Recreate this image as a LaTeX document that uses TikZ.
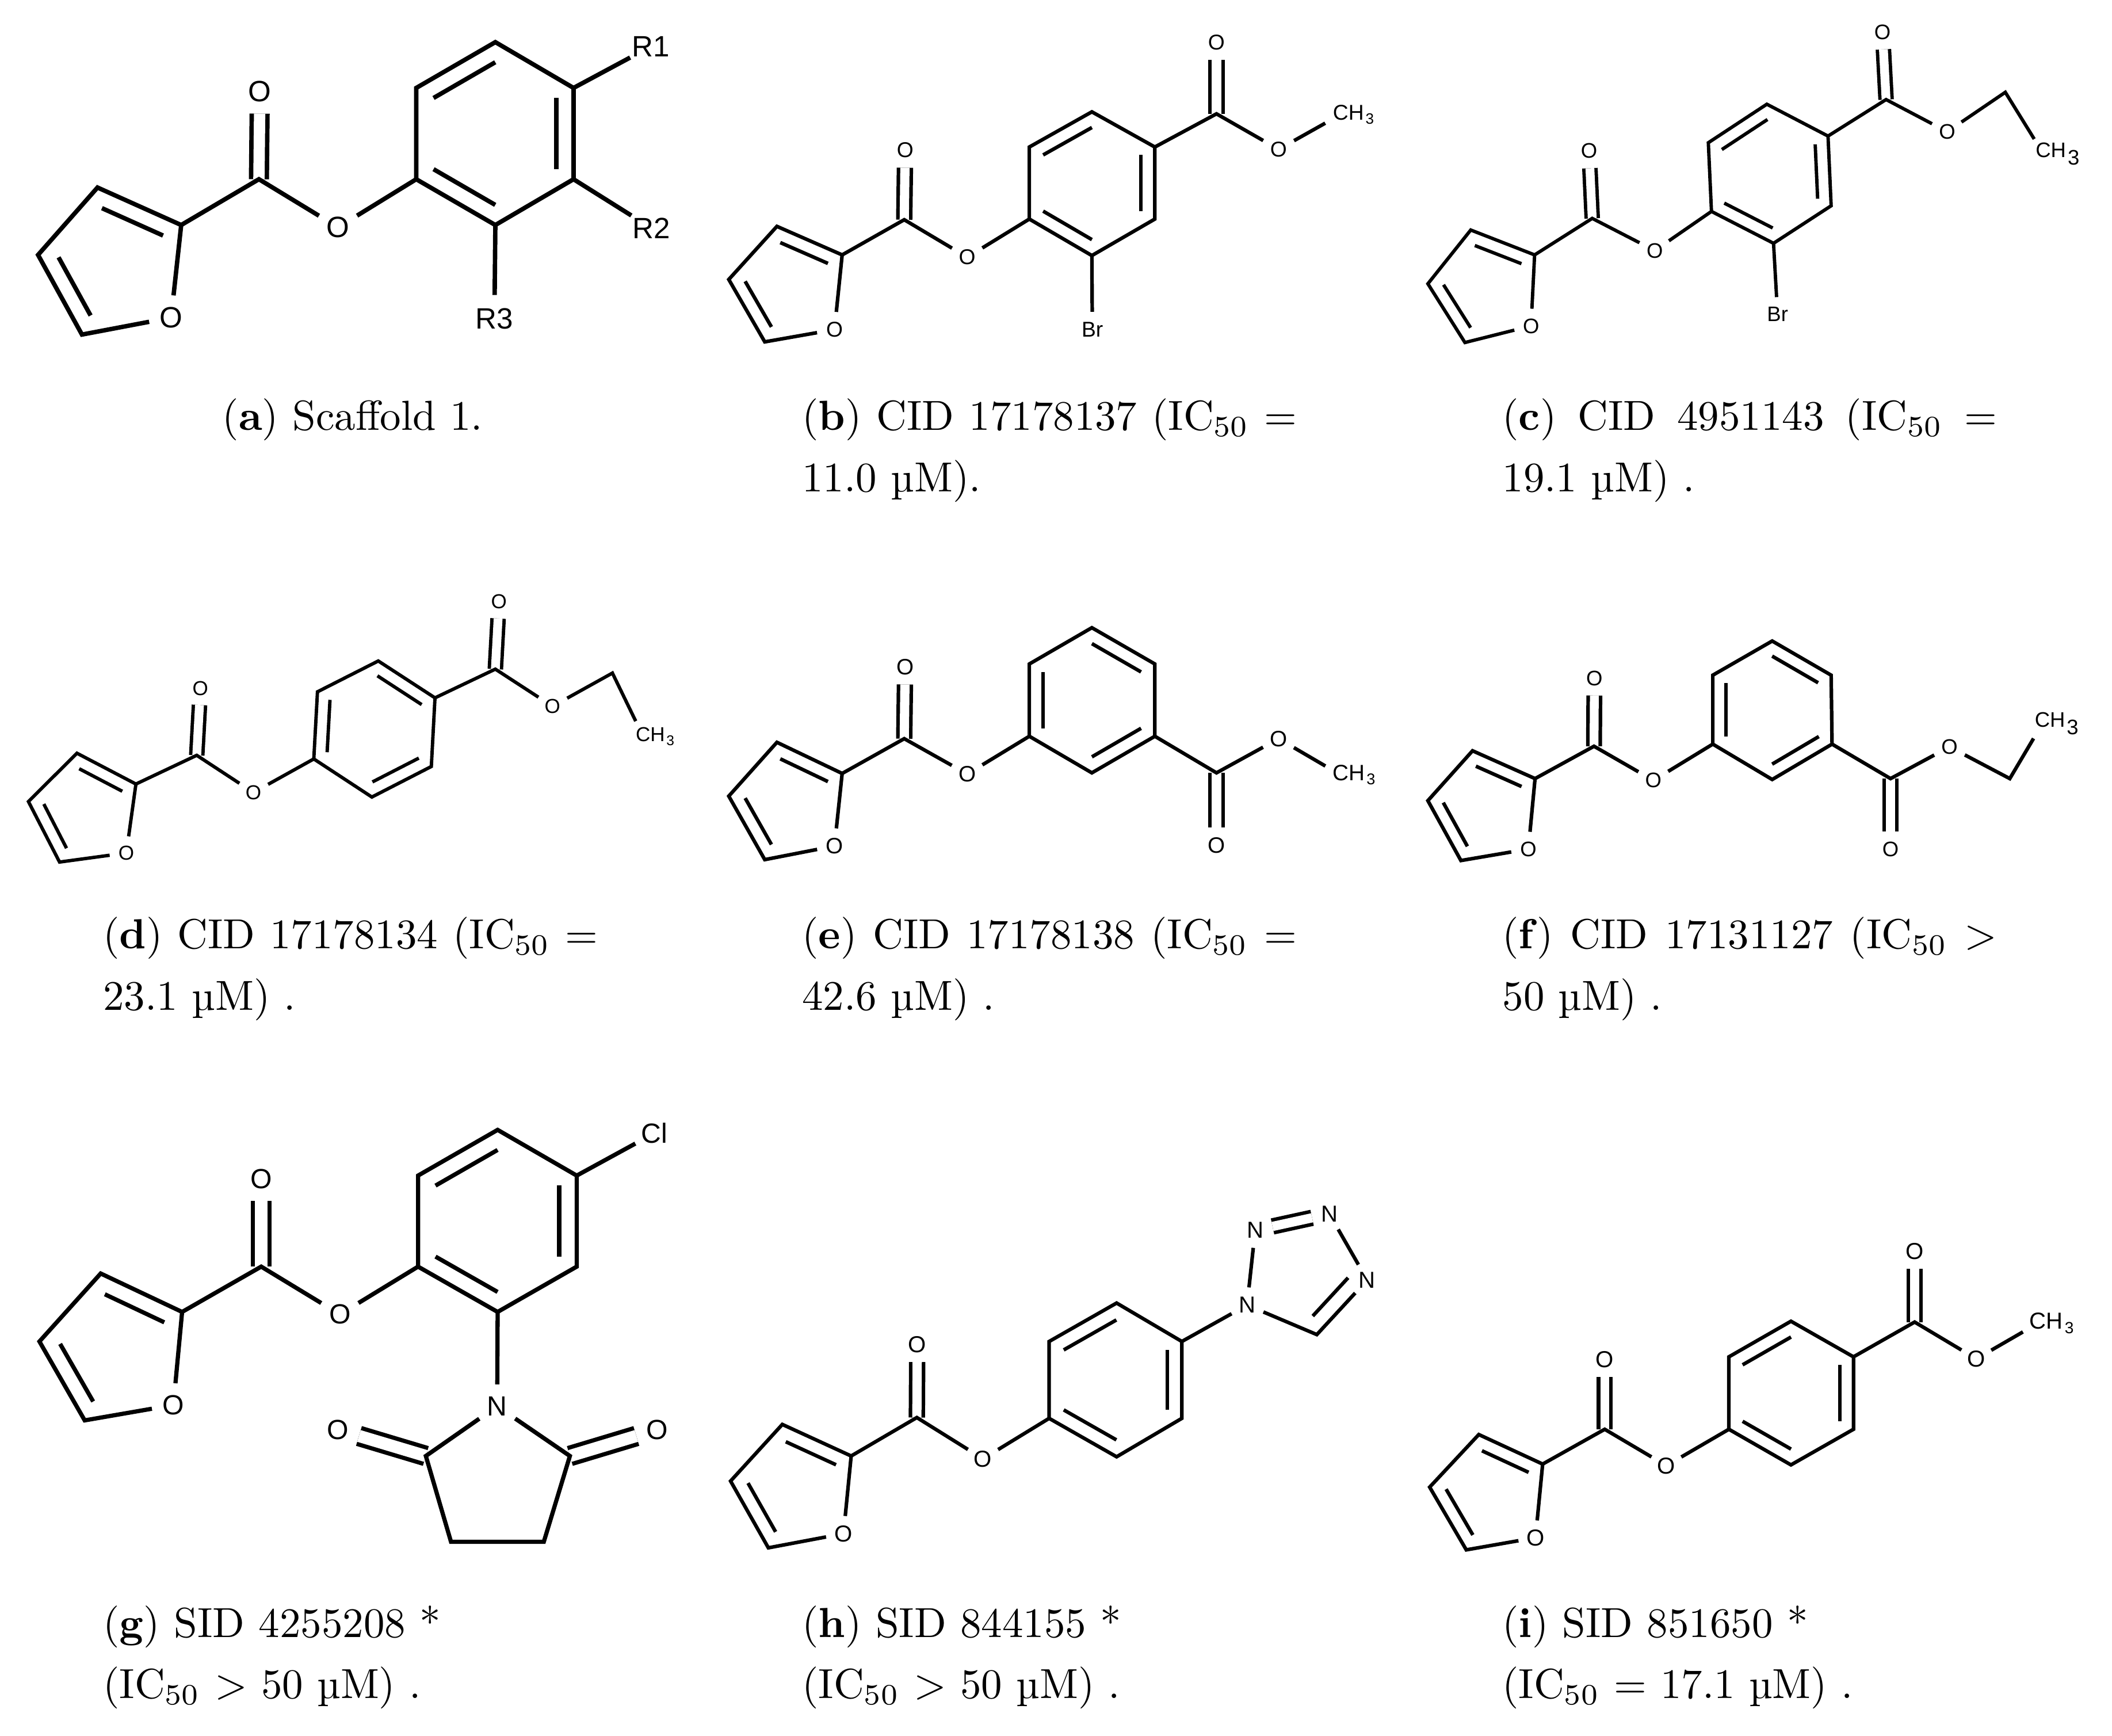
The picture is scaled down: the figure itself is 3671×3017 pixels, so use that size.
\documentclass[tikz,border=0pt]{standalone}
\usepackage{fontspec}
\usetikzlibrary{calc}
\newfontfamily\atomfont{Liberation Sans}
\newcommand{\methyl}{C\rlap{H\kern.08em\textsubscript{3}}}
\tikzset{
  panel/.style n args={4}{shift={(#1,#2)},x=#3*0.137pt,y=-#4*0.137pt},
  mol/.style n args={4}{
    line width=#1,
    atom/.style={circle,inner sep=0pt,minimum size=#3,font=\atomfont\fontsize{#2}{#2}\selectfont},
    dbond/.style={double,double distance=#4}
  },
  capt/.style={anchor=base west,inner sep=0pt,text width=117.8pt,align=justify,font=\fontsize{10}{14.6}\selectfont}
}
% furan ring, carbonyl and ester oxygen, named the same in every molecule
\newcommand{\furoate}{
  \coordinate (fc) at ($.2*(o1)+.2*(c2)+.2*(c3)+.2*(c4)+.2*(c5)$);
  \draw[dbond] (cc) -- (oa);
  \draw (o1) -- (c2) -- (c3) -- (c4) -- (c5) -- (o1);
  \draw ($(c2)!.27!(fc)$) -- ($(c3)!.27!(fc)$);
  \draw ($(c4)!.27!(fc)$) -- ($(c5)!.27!(fc)$);
  \draw (c2) -- (cc) -- (oe) -- (r1);
}
\newcommand{\benzene}[1]{
  \coordinate (rc) at ($(r1)!.5!(r4)$);
  \draw (r1) -- (r2) -- (r3) -- (r4) -- (r5) -- (r6) -- cycle;
  \foreach \ua/\ub in {#1}
    \draw ($(\ua)!.22!(rc)$) -- ($(\ub)!.22!(rc)$);
}
\begin{document}
\begin{tikzpicture}[x=0.137pt,y=-0.137pt]
  \useasboundingbox (0,0) rectangle (3671,3017);

  % (a)
  \begin{scope}[panel={-3}{0}{.7949}{.5769},mol={1.05pt}{7pt}{9.6pt}{2.7pt},name prefix=a-]
    \node[atom] (o1) at (378,957) {O};
    \node[atom] (oa) at (572,275) {O};
    \node[atom] (oe) at (743,685) {O};
    \path (400,678) coordinate (c2) (217,565) coordinate (c3) (87,768) coordinate (c4) (183,1008) coordinate (c5) (570,540) coordinate (cc);
    \path (914,540) coordinate (r1) (914,265) coordinate (r2) (1087,127) coordinate (r3) (1258,265) coordinate (r4) (1258,540) coordinate (r5) (1087,678) coordinate (r6);
    \node[atom] (s1) at (1427,140) {R1};
    \node[atom] (s2) at (1428,687) {R2};
    \node[atom] (s3) at (1085,960) {R3};
    \furoate
    \benzene{r2/r3,r4/r5,r6/r1}
    \draw (r4) -- (s1);
    \draw (r5) -- (s2);
    \draw (r6) -- (s3);
  \end{scope}

  % (b)
  \begin{scope}[panel={1237}{0}{.7821}{.5769},mol={.85pt}{5.1pt}{7.6pt}{2.2pt},name prefix=b-]
    \node[atom] (o1) at (273,993) {O};
    \node[atom] (oa) at (430,452) {O};
    \node[atom] (oe) at (568,775) {O};
    \path (290,768) coordinate (c2) (145,682) coordinate (c3) (38,842) coordinate (c4) (118,1030) coordinate (c5) (428,662) coordinate (cc);
    \path (706,660) coordinate (r1) (706,443) coordinate (r2) (845,337) coordinate (r3) (985,443) coordinate (r4) (985,660) coordinate (r5) (845,770) coordinate (r6);
    \node[atom] (br) at (846,993) {Br};
    \node[atom] (od) at (1122,127) {O};
    \node[atom] (ox) at (1260,450) {O};
    \node[atom] (me) at (1398,345) {\methyl};
    \coordinate (ce) at (1122,343);
    \furoate
    \benzene{r2/r3,r4/r5,r6/r1}
    \draw (r6) -- (br);
    \draw[dbond] (ce) -- (od);
    \draw (r4) -- (ce) -- (ox) -- (me);
  \end{scope}

  % (c)
  \begin{scope}[panel={2457}{0}{.7763}{.5769},mol={.8pt}{5pt}{7.4pt}{2.1pt},name prefix=c-]
    \node[atom] (o1) at (263,982) {O};
    \node[atom] (oa) at (393,455) {O};
    \node[atom] (oe) at (540,755) {O};
    \path (271,768) coordinate (c2) (128,693) coordinate (c3) (32,855) coordinate (c4) (115,1032) coordinate (c5) (400,658) coordinate (cc);
    \path (667,637) coordinate (r1) (660,430) coordinate (r2) (791,314) coordinate (r3) (928,410) coordinate (r4) (935,620) coordinate (r5) (806,733) coordinate (r6);
    \node[atom] (br) at (815,947) {Br};
    \node[atom] (od) at (1050,97) {O};
    \node[atom] (ox) at (1195,397) {O};
    \node[atom] (me) at (1410,463) {\methyl};
    \path (1058,300) coordinate (ce) (1325,278) coordinate (ch);
    \furoate
    \benzene{r2/r3,r4/r5,r6/r1}
    \draw (r6) -- (br);
    \draw[dbond] (ce) -- (od);
    \draw (r4) -- (ce) -- (ox) -- (ch) -- (me);
  \end{scope}

  % (d)
  \begin{scope}[panel={-3}{1000}{.7949}{.5256},mol={.8pt}{4.8pt}{7.2pt}{2.1pt},name prefix=d-]
    \node[atom] (o1) at (280,918) {O};
    \node[atom] (oa) at (442,373) {O};
    \node[atom] (oe) at (558,718) {O};
    \path (301,690) coordinate (c2) (172,588) coordinate (c3) (66,748) coordinate (c4) (134,948) coordinate (c5) (434,595) coordinate (cc);
    \path (690,607) coordinate (r1) (698,385) coordinate (r2) (831,283) coordinate (r3) (955,405) coordinate (r4) (947,632) coordinate (r5) (817,733) coordinate (r6);
    \node[atom] (od) at (1095,87) {O};
    \node[atom] (ox) at (1212,433) {O};
    \node[atom] (me) at (1410,532) {\methyl};
    \path (1087,310) coordinate (ce) (1343,323) coordinate (ch);
    \furoate
    \benzene{r1/r2,r3/r4,r5/r6}
    \draw[dbond] (ce) -- (od);
    \draw (r4) -- (ce) -- (ox) -- (ch) -- (me);
  \end{scope}

  % (e)
  \begin{scope}[panel={1237}{1000}{.7821}{.5256},mol={.85pt}{5.3pt}{7.6pt}{2.2pt},name prefix=e-]
    \node[atom] (o1) at (273,895) {O};
    \node[atom] (oa) at (430,302) {O};
    \node[atom] (oe) at (568,657) {O};
    \path (290,655) coordinate (c2) (145,552) coordinate (c3) (38,730) coordinate (c4) (118,940) coordinate (c5) (428,540) coordinate (cc);
    \path (706,532) coordinate (r1) (706,293) coordinate (r2) (845,173) coordinate (r3) (985,293) coordinate (r4) (985,532) coordinate (r5) (845,653) coordinate (r6);
    \node[atom] (od) at (1122,893) {O};
    \node[atom] (ox) at (1260,540) {O};
    \node[atom] (me) at (1398,660) {\methyl};
    \coordinate (ce) at (1122,653);
    \furoate
    \benzene{r1/r2,r3/r4,r5/r6}
    \draw[dbond] (ce) -- (od);
    \draw (r5) -- (ce) -- (ox) -- (me);
  \end{scope}

  % (f)
  \begin{scope}[panel={2457}{1000}{.7763}{.5256},mol={.85pt}{5pt}{7.4pt}{2.1pt},name prefix=f-]
    \node[atom] (o1) at (257,905) {O};
    \node[atom] (oa) at (405,340) {O};
    \node[atom] (oe) at (537,678) {O};
    \path (272,672) coordinate (c2) (132,580) coordinate (c3) (32,745) coordinate (c4) (106,943) coordinate (c5) (404,565) coordinate (cc);
    \path (670,558) coordinate (r1) (670,330) coordinate (r2) (803,217) coordinate (r3) (935,330) coordinate (r4) (937,558) coordinate (r5) (803,675) coordinate (r6);
    \node[atom] (od) at (1068,905) {O};
    \node[atom] (ox) at (1200,567) {O};
    \node[atom] (me) at (1408,490) {\methyl};
    \path (1068,672) coordinate (ce) (1335,672) coordinate (ch);
    \furoate
    \benzene{r1/r2,r3/r4,r5/r6}
    \draw[dbond] (ce) -- (od);
    \draw (r5) -- (ce) -- (ox) -- (ch) -- (me);
  \end{scope}

  % (g)
  \begin{scope}[panel={-3}{1920}{.7949}{.7032},mol={1pt}{6.6pt}{9.4pt}{2.9pt},name prefix=g-]
    \node[atom] (o1) at (383,742) {O};
    \node[atom] (oa) at (575,183) {O};
    \node[atom] (oe) at (747,518) {O};
    \path (402,512) coordinate (c2) (224,417) coordinate (c3) (90,585) coordinate (c4) (189,780) coordinate (c5) (575,400) coordinate (cc);
    \path (918,400) coordinate (r1) (918,175) coordinate (r2) (1092,62) coordinate (r3) (1265,175) coordinate (r4) (1265,400) coordinate (r5) (1092,512) coordinate (r6);
    \node[atom] (cl) at (1435,70) {Cl};
    \node[atom] (nn) at (1091,745) {N};
    \node[atom] (ol) at (743,803) {O};
    \node[atom] (or) at (1441,803) {O};
    \path (935,868) coordinate (p2) (990,1080) coordinate (p3) (1193,1080) coordinate (p4) (1250,868) coordinate (p5);
    \furoate
    \benzene{r2/r3,r4/r5,r6/r1}
    \draw (r4) -- (cl);
    \draw (r6) -- (nn);
    \draw[dbond] (p2) -- (ol);
    \draw[dbond] (p5) -- (or);
    \draw (nn) -- (p2) -- (p3) -- (p4) -- (p5) -- (nn);
  \end{scope}

  % (h)
  \begin{scope}[panel={1237}{1920}{.7821}{.7032},mol={.85pt}{5.5pt}{7.6pt}{2.2pt},name prefix=h-]
    \node[atom] (o1) at (293,1060) {O};
    \node[atom] (oa) at (457,592) {O};
    \node[atom] (oe) at (603,875) {O};
    \path (310,868) coordinate (c2) (157,790) coordinate (c3) (42,930) coordinate (c4) (126,1095) coordinate (c5) (456,773) coordinate (cc);
    \path (750,775) coordinate (r1) (750,585) coordinate (r2) (900,490) coordinate (r3) (1045,585) coordinate (r4) (1045,775) coordinate (r5) (900,870) coordinate (r6);
    \node[atom] (n1) at (1190,495) {N};
    \node[atom] (n2) at (1208,310) {N};
    \node[atom] (n3) at (1373,270) {N};
    \node[atom] (n4) at (1457,433) {N};
    \coordinate (c6) at (1345,568);
    \coordinate (tc) at (1315,415);
    \furoate
    \benzene{r2/r3,r4/r5,r6/r1}
    \draw (r4) -- (n1);
    \draw (n1) -- (n2);
    \draw[dbond] (n2) -- (n3);
    \draw (n3) -- (n4);
    \draw (n4) -- (c6) -- (n1);
    \draw ($(c6)!.3!(tc)$) -- ($(n4)!.3!(tc)$);
  \end{scope}

  % (i)
  \begin{scope}[panel={2457}{1920}{.7763}{.7032},mol={.85pt}{5.5pt}{7.4pt}{2.1pt},name prefix=i-]
    \node[atom] (o1) at (273,1070) {O};
    \node[atom] (oa) at (428,630) {O};
    \node[atom] (oe) at (566,892) {O};
    \path (289,888) coordinate (c2) (146,815) coordinate (c3) (36,945) coordinate (c4) (118,1100) coordinate (c5) (428,802) coordinate (cc);
    \path (706,802) coordinate (r1) (706,623) coordinate (r2) (845,535) coordinate (r3) (985,623) coordinate (r4) (985,802) coordinate (r5) (845,890) coordinate (r6);
    \node[atom] (od) at (1122,362) {O};
    \node[atom] (ox) at (1260,628) {O};
    \node[atom] (me) at (1398,540) {\methyl};
    \coordinate (ce) at (1122,537);
    \furoate
    \benzene{r2/r3,r4/r5,r6/r1}
    \draw[dbond] (ce) -- (od);
    \draw (r4) -- (ce) -- (ox) -- (me);
  \end{scope}

  % captions
  \node[anchor=base,inner sep=0pt,font=\fontsize{10}{14.6}\selectfont] (capa) at (613,748) {(\textbf{a}) Scaffold 1.};
  \node[capt] (capb) at (1393,748) {(\textbf{b}) CID 17178137 (IC$_{50}$ $=$\linebreak 11.0 µM).};
  \node[capt] (capc) at (2610,748) {(\textbf{c}) CID 4951143 (IC$_{50}$ $=$\linebreak 19.1 µM) .};
  \node[capt] (capd) at (178,1649) {(\textbf{d}) CID 17178134 (IC$_{50}$ $=$\linebreak 23.1 µM) .};
  \node[capt] (cape) at (1393,1649) {(\textbf{e}) CID 17178138 (IC$_{50}$ $=$\linebreak 42.6 µM) .};
  \node[capt] (capf) at (2610,1649) {(\textbf{f}) CID 17131127 (IC$_{50}$ $>$\linebreak 50 µM) .};
  \node[capt] (capg) at (178,2845) {(\textbf{g}) SID 4255208 *\newline (IC$_{50}$ $>$ 50 µM) .};
  \node[capt] (caph) at (1393,2845) {(\textbf{h}) SID 844155 *\newline (IC$_{50}$ $>$ 50 µM) .};
  \node[capt] (capi) at (2610,2845) {(\textbf{i}) SID 851650 *\newline (IC$_{50}$ $=$ 17.1 µM) .};
\end{tikzpicture}
\end{document}
